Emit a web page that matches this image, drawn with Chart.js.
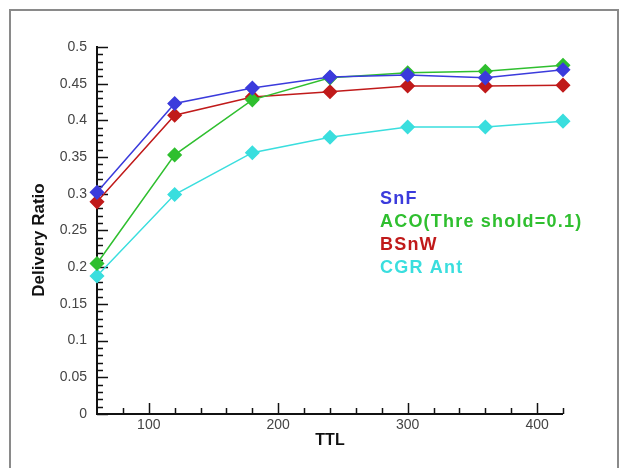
<!DOCTYPE html>
<html>
<head>
<meta charset="utf-8">
<script src="https://cdn.jsdelivr.net/npm/chart.js@4.4.1/dist/chart.umd.min.js"></script>
<style>
  body { margin: 0; background: #fff; }
  #wrap { position: absolute; left: 0; top: 0; width: 629px; height: 468px; }
  #frame { position: absolute; left: 9px; top: 9px; width: 610px; height: 470px;
           border: 2px solid #8a8a8a; box-sizing: border-box; }
  #chart { position: absolute; left: 0; top: 0; }
</style>
</head>
<body>
<div id="wrap">
  <div id="frame"></div>
  <canvas id="chart" width="629" height="468"></canvas>
</div>
<script>
// TTL values on the x axis
const ttl = [60, 120, 180, 240, 300, 360, 420];

// delivery ratio per protocol
const snf   = [0.302, 0.423, 0.444, 0.459, 0.462, 0.458, 0.469];
const aco   = [0.205, 0.353, 0.428, 0.458, 0.465, 0.467, 0.475];
const bsnw  = [0.289, 0.407, 0.432, 0.439, 0.447, 0.447, 0.448];
const cgr   = [0.188, 0.299, 0.356, 0.377, 0.391, 0.391, 0.399];

const names  = ["SnF", "ACO(Thre shold=0.1)", "BSnW", "CGR Ant"];
const colors = ["#3b3bdc", "#2fbf2f", "#c01a1a", "#3adede"];

const xTicks = [100, 200, 300, 400];
const yTicks = [0, 0.05, 0.1, 0.15, 0.2, 0.25, 0.3, 0.35, 0.4, 0.45, 0.5];

const FONT = '"Liberation Sans", Arial, sans-serif';

function series(vals){
    return ttl.map(function (t, i){ return {x: t, y: vals[i]}; });
}

const datasets = [snf, aco, bsnw, cgr].map(function (vals, i){
    return {
        label: names[i],
        data: series(vals),
        borderColor: colors[i],
        backgroundColor: colors[i],
        borderWidth: 1.5,
        pointStyle: 'rectRot',
        pointRadius: 6.5,
        pointHoverRadius: 6.5,
        clip: false,
        tension: 0
    };
});

// inward tick marks and axis lines, like the original plot
const innerTicks = {
    id: 'innerTicks',
    beforeDatasetsDraw(chart){
        const ctx = chart.ctx;
        const xs = chart.scales.x, ys = chart.scales.y;
        const left = xs.left, bottom = ys.bottom;
        ctx.save();
        ctx.strokeStyle = '#111';
        ctx.lineWidth = 1.5;
        for(let v = 0; v <= 0.5001; v += 0.01){
            let y = Math.round(ys.getPixelForValue(v)) + 0.5;
            let major = Math.abs(v / 0.05 - Math.round(v / 0.05)) < 1e-6;
            ctx.beginPath();
            ctx.moveTo(left, y);
            ctx.lineTo(left + (major ? 11 : 6), y);
            ctx.stroke();
        }
        for(let v = 80; v <= 420; v += 20){
            let x = Math.round(xs.getPixelForValue(v)) + 0.5;
            let major = v % 100 == 0;
            ctx.beginPath();
            ctx.moveTo(x, bottom);
            ctx.lineTo(x, bottom - (major ? 11 : 6));
            ctx.stroke();
        }
        ctx.lineWidth = 2;
        ctx.beginPath();
        ctx.moveTo(left, ys.top - 1);
        ctx.lineTo(left, bottom);
        ctx.lineTo(xs.right, bottom);
        ctx.stroke();
        ctx.restore();
    }
};

// text-only legend in series colours, plus the rotated y title
const textLegend = {
    id: 'textLegend',
    afterDraw(chart){
        const ctx = chart.ctx;
        ctx.save();
        ctx.font = 'bold 18px ' + FONT;
        ctx.letterSpacing = '1.2px';
        ctx.textBaseline = 'middle';
        chart.data.datasets.forEach(function (ds, i){
            ctx.fillStyle = ds.borderColor;
            ctx.fillText(ds.label, 380, 199 + i * 23);
        });
        ctx.restore();

        ctx.save();
        ctx.font = 'bold 17px ' + FONT;
        ctx.fillStyle = '#111';
        ctx.textAlign = 'center';
        ctx.textBaseline = 'middle';
        ctx.translate(39, 240);
        ctx.rotate(-Math.PI / 2);
        ctx.fillText('Delivery Ratio', 0, 0);
        ctx.restore();
    }
};

new Chart(document.getElementById('chart'), {
    type: 'line',
    data: { datasets: datasets },
    options: {
        responsive: false,
        animation: false,
        layout: { padding: { top: 47, right: 66, left: 0, bottom: 18 } },
        plugins: {
            legend: { display: false },
            tooltip: { enabled: false }
        },
        scales: {
            x: {
                type: 'linear',
                min: 60,
                max: 420,
                afterBuildTicks: function (s){ s.ticks = xTicks.map(function (v){ return {value: v}; }); },
                afterFit: function (s){ s.height = 36; },
                grid: { display: false, drawTicks: false },
                border: { display: false },
                ticks: {
                    padding: 3,
                    color: '#444',
                    font: { family: FONT, size: 14 }
                },
                title: {
                    display: true,
                    text: 'TTL',
                    color: '#111',
                    align: 'center',
                    padding: { top: 0, bottom: 0 },
                    font: { family: FONT, size: 16, weight: 'bold' }
                }
            },
            y: {
                min: 0,
                max: 0.5,
                afterBuildTicks: function (s){ s.ticks = yTicks.map(function (v){ return {value: v}; }); },
                afterFit: function (s){ s.width = 97; },
                grid: { display: false, drawTicks: false },
                border: { display: false },
                ticks: {
                    padding: 10,
                    color: '#444',
                    font: { family: FONT, size: 14 },
                    callback: function (v){ return String(+v.toFixed(2)); }
                }
            }
        }
    },
    plugins: [innerTicks, textLegend]
});
</script>
</body>
</html>
